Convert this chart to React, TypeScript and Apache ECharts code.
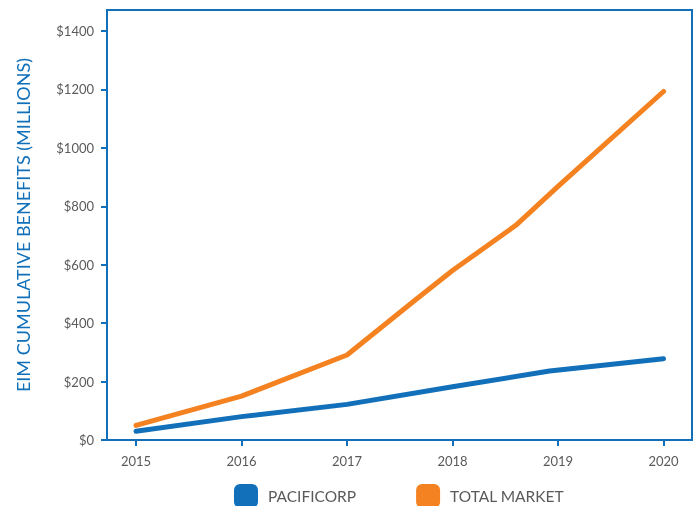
import React, { useEffect, useRef } from "react";
import * as echarts from "echarts";

const years = [2015, 2016, 2017, 2018, 2019, 2020];
const yTicks = [0, 200, 400, 600, 800, 1000, 1200, 1400];
const pacificorp: [number, number][] = [
  [2015, 30], [2016, 80], [2017, 122], [2018, 182], [2018.92, 236], [2020, 278],
];
const totalMarket: [number, number][] = [
  [2015, 50], [2016, 150], [2017, 291], [2017.65, 480], [2018, 580], [2018.6, 735], [2019, 868], [2020, 1193],
];

const BLUE = "#1170b9";
const ORANGE = "#f58220";
const GRAY = "#5a5a5a";
const FONT = "Lato";

export default function App() {
  const ref = useRef<HTMLDivElement>(null);
  useEffect(() => {
    const chart = echarts.init(ref.current!, null, { renderer: "svg" });
    chart.setOption({
      animation: false,
      grid: {
        left: 107, right: 4, top: 10, bottom: 66,
        show: true, borderColor: BLUE, borderWidth: 2, containLabel: false,
      },
      legend: {
        top: 479, left: 229, itemWidth: 24, itemHeight: 24, itemGap: 60,
        icon: "roundRect",
        textStyle: { color: GRAY, fontSize: 15.5, fontFamily: FONT, padding: [0, 0, 0, 5] },
        data: ["PACIFICORP", "TOTAL MARKET"],
      },
      xAxis: {
        type: "value", min: 2014.725, max: 2020.27,
        splitLine: { show: false },
        axisLine: { show: true, lineStyle: { color: BLUE, width: 2 } },
        axisTick: { show: true, length: 6, lineStyle: { color: BLUE, width: 2 }, customValues: years },
        axisLabel: { color: GRAY, fontSize: 13, fontFamily: FONT, margin: 14, customValues: years, formatter: (v: number) => String(v) },
      },
      yAxis: {
        type: "value", min: 0, max: 1472,
        name: "EIM CUMULATIVE BENEFITS (MILLIONS)",
        nameLocation: "middle", nameGap: 75, nameRotate: 90,
        nameTextStyle: { color: BLUE, fontSize: 18, fontFamily: FONT },
        splitLine: { show: false },
        axisLine: { show: true, lineStyle: { color: BLUE, width: 2 } },
        axisTick: { show: true, length: 6, lineStyle: { color: BLUE, width: 2 }, customValues: yTicks },
        axisLabel: { color: GRAY, fontSize: 13, fontFamily: FONT, margin: 13, customValues: yTicks, formatter: (v: number) => "$" + v },
      },
      series: [
        {
          name: "PACIFICORP", type: "line", data: pacificorp, showSymbol: false, symbol: "none",
          color: BLUE, lineStyle: { color: BLUE, width: 5, cap: "round", join: "round" },
        },
        {
          name: "TOTAL MARKET", type: "line", data: totalMarket, showSymbol: false, symbol: "none",
          color: ORANGE, lineStyle: { color: ORANGE, width: 5, cap: "round", join: "round" },
        },
      ],
    });
    return () => chart.dispose();
  }, []);
  return <div ref={ref} style={{ position: "fixed", left: 0, top: 0, width: 696, height: 506 }} />;
}
